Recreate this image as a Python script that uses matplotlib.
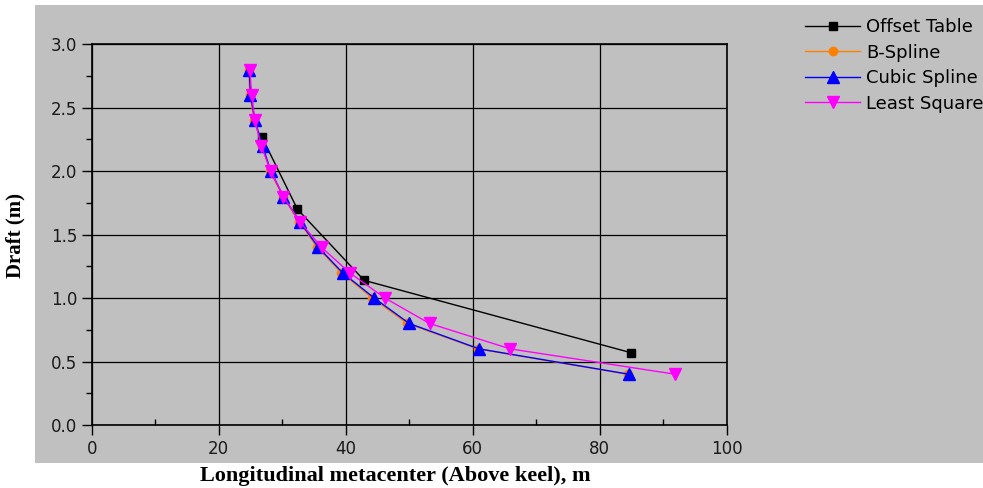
import matplotlib.pyplot as plt
from matplotlib.patches import Rectangle

# данные
offset_x = [26.8, 32.4, 42.9, 84.9]
offset_y = [2.27, 1.70, 1.14, 0.57]

draft = [2.8, 2.6, 2.4, 2.2, 2.0, 1.8, 1.6, 1.4, 1.2, 1.0, 0.8, 0.6, 0.4]
bspline_x = [24.7, 24.9, 25.6, 26.8, 28.1, 30.1, 32.7, 35.5, 39.3, 44.2, 49.7, 60.8, 84.4]
cubic_x = [24.8, 25.0, 25.7, 26.9, 28.2, 30.2, 32.8, 35.7, 39.5, 44.5, 50.0, 61.0, 84.6]
least_x = [24.9, 25.2, 25.7, 26.7, 28.2, 30.2, 32.8, 36.2, 40.6, 46.2, 53.2, 65.9, 91.9]

x_ticks = [0, 20, 40, 60, 80, 100]
y_ticks = [0.0, 0.5, 1.0, 1.5, 2.0, 2.5, 3.0]

plt.rcParams['font.family'] = ['DejaVu Sans']

fig = plt.figure(figsize=(9.83, 4.88), dpi=100)
bg = '#c0c0c0'
fig.patches.append(Rectangle((35 / 983, 0.0518), 1.0, 0.9898 - 0.0518,
                             transform=fig.transFigure, facecolor=bg,
                             edgecolor='none', zorder=-10))

ax = fig.add_axes([0.0933, 0.1291, 0.7393 - 0.0933, 0.9092 - 0.1291])
ax.set_facecolor(bg)

ax.plot(offset_x, offset_y, color='black', lw=1, marker='s', ms=5.5,
        label='Offset Table', zorder=3)
ax.plot(bspline_x, draft, color='#ff8000', lw=1, marker='o', ms=6,
        label='B-Spline', zorder=4)
ax.plot(cubic_x, draft, color='#0000ff', lw=1, marker='^', ms=8.5,
        label='Cubic Spline', zorder=5)
ax.plot(least_x, draft, color='#ff00ff', lw=1, marker='v', ms=8.5,
        label='Least Square', zorder=6)

ax.set_xlim(0, 100)
ax.set_ylim(0, 3.0)
ax.set_xticks(x_ticks)
ax.set_yticks(y_ticks)
ax.set_xticks([10, 30, 50, 70, 90], minor=True)
ax.set_yticks([0.25, 0.75, 1.25, 1.75, 2.25, 2.75], minor=True)
ax.set_yticklabels(['%.1f' % v for v in y_ticks])
ax.tick_params(which='major', direction='out', length=7, width=1,
               labelsize=12, colors='black', labelcolor='#1a1a1a')
ax.tick_params(axis='x', which='minor', direction='in', length=4, width=1)
ax.tick_params(axis='y', which='minor', direction='out', length=4, width=1)
ax.grid(True, which='major', color='black', lw=0.9)
for s in ax.spines.values():
    s.set_linewidth(1.2)
    s.set_color('black')

fig.text(0.0153, 0.518, 'Draft (m)', rotation=90, ha='center', va='center',
         family=['Liberation Serif', 'DejaVu Serif'], weight='bold', fontsize=15)
fig.text(0.402, 0.0246, 'Longitudinal metacenter (Above keel), m', ha='center',
         va='center', family=['Liberation Serif', 'DejaVu Serif'], weight='bold',
         fontsize=16)

fig.legend(loc='upper left', bbox_to_anchor=(805 / 983, (488 - 18) / 488),
           frameon=False, fontsize=13, handlelength=3.05, handletextpad=0.33,
           labelspacing=0.42, borderpad=0, borderaxespad=0)

plt.savefig('out.png', dpi=100)
